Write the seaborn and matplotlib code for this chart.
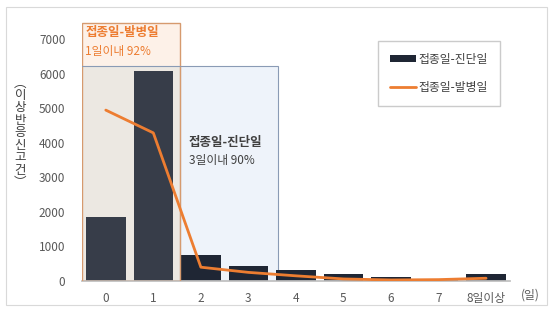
import numpy as np
import pandas as pd
import matplotlib.pyplot as plt
import seaborn as sns
from matplotlib.patches import Rectangle
from matplotlib.lines import Line2D
from matplotlib.patches import Patch

days = ["0", "1", "2", "3", "4", "5", "6", "7", "8일이상"]
diagnosis = [1850, 6080, 760, 440, 320, 200, 120, 60, 200]
onset = [4950, 4290, 400, 250, 150, 60, 30, 40, 80]

sns.set_theme(style="white")
plt.rcParams["font.family"] = ["Noto Sans CJK KR", "DejaVu Sans"]

df = pd.DataFrame({"day": days, "diag": diagnosis, "onset": onset})
df["pos"] = np.arange(len(days))

fig = plt.figure(figsize=(5.52, 3.09), dpi=100)
ax = fig.add_axes([0.1486, 0.0906, 0.775, 0.838])

gray = "#595959"
navy = "#1f2634"
orange = "#ed7d31"

# shaded boxes
ax.add_patch(Rectangle((-0.5, 0), 2.07, 6230, facecolor="#ece8e2", edgecolor="none", zorder=0))
ax.add_patch(Rectangle((-0.5, 0), 2.07, 6230, facecolor="#ece8e2", edgecolor="none", alpha=0.12, zorder=2.5))
ax.add_patch(Rectangle((-0.5, 6230), 2.07, 1250, facecolor="#fdf1e8", edgecolor="none", zorder=0))
ax.add_patch(Rectangle((-0.5, 0), 2.07, 7480, facecolor="none", edgecolor="#d69a6e", lw=1.0, zorder=3))
ax.plot([-0.5, 1.57], [6230, 6230], color="#8a9bb5", lw=0.8, zorder=3)
ax.add_patch(Rectangle((1.57, 0), 2.05, 6230, facecolor="#eef3fa", edgecolor="#8a9bb5", lw=0.8, zorder=0))

sns.barplot(data=df, x="day", y="diag", color=navy, width=0.83, saturation=1,
            linewidth=0, edgecolor="none", ax=ax, zorder=2)
sns.lineplot(data=df, x="pos", y="onset", color=orange, lw=2, ax=ax, zorder=4)

ax.set_xlim(-0.5, 8.5)
ax.set_ylim(0, 7500)
ax.set_yticks(range(0, 7001, 1000))
ax.set_xticks(df["pos"])
ax.set_xticklabels(days)
ax.tick_params(axis="both", colors=gray, labelsize=8.5, length=0)
ax.tick_params(axis="x", pad=8)
ax.tick_params(axis="y", pad=12)
ax.set_xlabel("")
ax.set_ylabel("")
for s in ["top", "right", "left"]:
    ax.spines[s].set_visible(False)
ax.spines["bottom"].set_color("#bfbfbf")
ax.patch.set_alpha(0)

# annotations
ax.text(-0.43, 7380, "접종일-발병일", color=orange, fontsize=9, fontweight="bold", va="top", zorder=5)
ax.text(-0.43, 6850, "1일이내 92%", color=orange, fontsize=8.5, va="top", zorder=5)
ax.text(1.75, 4200, "접종일-진단일", color="#404040", fontsize=9, fontweight="bold", va="top", zorder=5)
ax.text(1.75, 3680, "3일이내 90%", color="#404040", fontsize=8.5, va="top", zorder=5)

fig.text(0.96, 0.045, "(일)", color=gray, fontsize=8.5, ha="center", va="center")
fig.text(0.037, 0.57, "︵\n이\n상\n반\n응\n신\n고\n건\n︶", color="#404040",
         fontsize=9, ha="center", va="center", linespacing=0.95)

handles = [Patch(facecolor=navy, edgecolor="none"), Line2D([0], [0], color=orange, lw=2)]
leg = ax.legend(handles, ["접종일-진단일", "접종일-발병일"], loc="upper right",
                bbox_to_anchor=(0.99, 0.95), fontsize=8.5, frameon=True, fancybox=False,
                handlelength=2.2, handleheight=0.5, labelspacing=1.3, borderpad=1.0,
                handletextpad=0.2, edgecolor="#bfbfbf")
for t in leg.get_texts():
    t.set_color("#404040")

fig.add_artist(Rectangle((0.011, 0.013), 0.98, 0.965, transform=fig.transFigure,
                         facecolor="none", edgecolor="#d9d9d9", lw=0.8))

fig.savefig("out.png", dpi=100)
